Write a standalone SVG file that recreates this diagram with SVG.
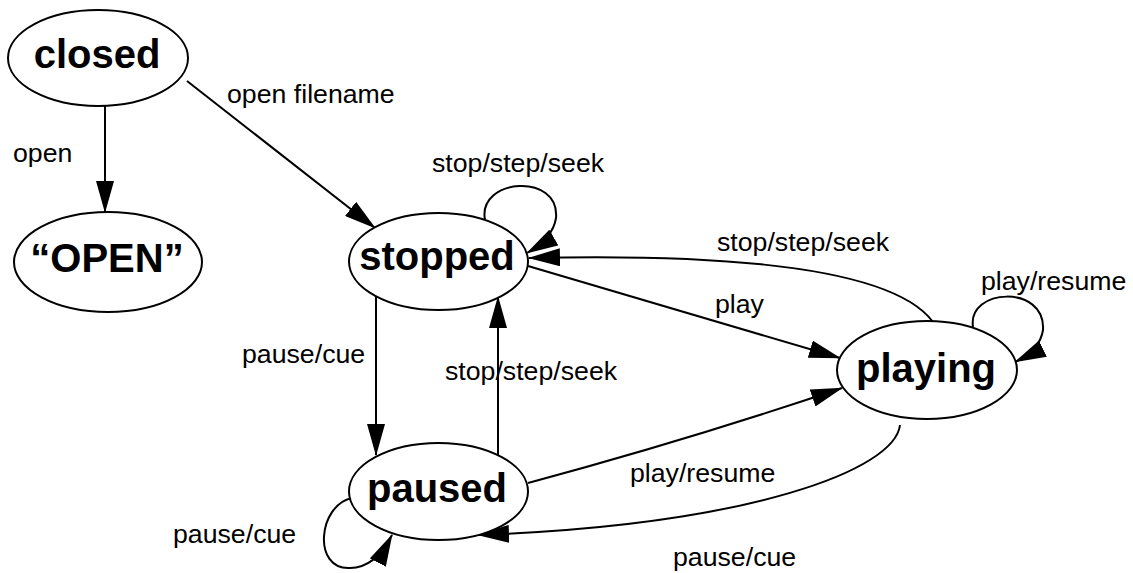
<svg xmlns="http://www.w3.org/2000/svg" width="1133" height="573" viewBox="0 0 1133 573">
<style>
.node ellipse{fill:#fff;stroke:#000;stroke-width:2}
.node text{font-family:"Liberation Sans",Arial,sans-serif;font-weight:bold;font-size:40px;text-anchor:middle;fill:#000}
.edge{fill:none;stroke:#000;stroke-width:2;marker-end:url(#ah)}
.lbl{font-family:"Liberation Sans",Arial,sans-serif;font-size:26.7px;fill:#000}
</style>
<defs>
<marker id="ah" markerUnits="userSpaceOnUse" viewBox="0 0 32 18" refX="31" refY="9" markerWidth="32" markerHeight="18" orient="auto">
<path d="M0,0 L32,9 L0,18 z" fill="#000"/>
</marker>
</defs>
<g id="connectors">
<path class="edge" d="M105,105 L105,212"/>
<path class="edge" d="M187,81 L375,228"/>
<path class="edge" d="M485,220 C477,178 560,172 556,218 Q553,238 527,253"/>
<path class="edge" d="M933,322 Q880,250 529,258"/>
<path class="edge" d="M528,266 L840,358"/>
<path class="edge" d="M973,327 C967,288 1046,284 1043,330 Q1040,350 1015,362"/>
<path class="edge" d="M376,293 L376,455"/>
<path class="edge" d="M498,462 L498,297"/>
<path class="edge" d="M528,483 Q688,440 842,388"/>
<path class="edge" d="M900,425 C895,470 750,525 478,535"/>
<path class="edge" d="M352,498 C318,505 312,570 350,568 Q375,568 392,535"/>
</g>
<g id="labels">
<text class="lbl" x="13" y="162">open</text>
<text class="lbl" x="227" y="103">open filename</text>
<text class="lbl" x="432" y="172">stop/step/seek</text>
<text class="lbl" x="717" y="251">stop/step/seek</text>
<text class="lbl" x="715" y="313">play</text>
<text class="lbl" x="981" y="290">play/resume</text>
<text class="lbl" x="242" y="363">pause/cue</text>
<text class="lbl" x="445" y="380">stop/step/seek</text>
<text class="lbl" x="630" y="482">play/resume</text>
<text class="lbl" x="173" y="543">pause/cue</text>
<text class="lbl" x="673" y="566">pause/cue</text>
</g>
<g id="closed" class="node"><ellipse cx="98" cy="58" rx="90" ry="48"/><text x="97" y="68">closed</text></g>
<g id="open" class="node"><ellipse cx="108" cy="262" rx="94" ry="50"/><text x="107" y="272">“OPEN”</text></g>
<g id="stopped" class="node"><ellipse cx="438.5" cy="261.5" rx="89.5" ry="48.5"/><text x="437" y="270">stopped</text></g>
<g id="paused" class="node"><ellipse cx="438.5" cy="491.5" rx="89.5" ry="48.5"/><text x="437" y="502">paused</text></g>
<g id="playing" class="node"><ellipse cx="927" cy="370" rx="90" ry="49"/><text x="926" y="382">playing</text></g>
</svg>
